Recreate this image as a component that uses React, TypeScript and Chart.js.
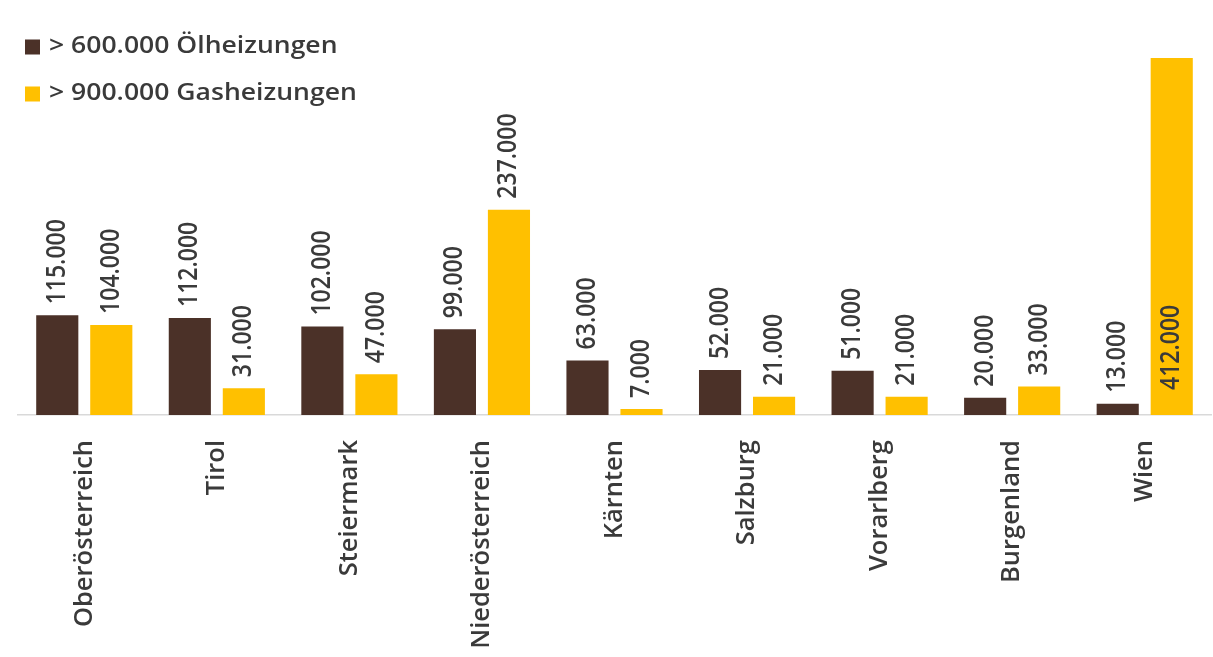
import React, { useEffect, useRef } from "react";
import { Chart, registerables } from "chart.js";

Chart.register(...registerables);

const categories = [
  "Oberösterreich",
  "Tirol",
  "Steiermark",
  "Niederösterreich",
  "Kärnten",
  "Salzburg",
  "Vorarlberg",
  "Burgenland",
  "Wien",
];
const oilValues = [115000, 112000, 102000, 99000, 63000, 52000, 51000, 20000, 13000];
const gasValues = [104000, 31000, 47000, 237000, 7000, 21000, 21000, 33000, 412000];
const seriesLabels = ["> 600.000 Ölheizungen", "> 900.000 Gasheizungen"];
const seriesColors = ["#4B3128", "#FFC000"];

const FONT = "'Open Sans', 'Noto Sans', sans-serif";
const TEXT = "#3A3A3A";
const STRETCH = 1.15;

function fmt(v: number): string {
  return String(Math.round(v)).replace(/\B(?=(\d{3})+(?!\d))/g, ".");
}

const dataLabelPlugin = {
  id: "dataLabels",
  afterDatasetsDraw(chart: any) {
    const ctx = chart.ctx;
    const area = chart.chartArea;
    ctx.save();
    ctx.font = `600 23px ${FONT}`;
    ctx.fillStyle = TEXT;
    ctx.textBaseline = "middle";
    chart.data.datasets.forEach((ds: any, di: number) => {
      const meta = chart.getDatasetMeta(di);
      meta.data.forEach((el: any, i: number) => {
        const text = fmt(ds.data[i]);
        const w = ctx.measureText(text).width;
        let bottom = el.y - 11;
        if (bottom - w < area.top) {
          bottom = el.base - 25;
        }
        ctx.save();
        ctx.translate(el.x, bottom);
        ctx.scale(STRETCH, 1);
        ctx.rotate(-Math.PI / 2);
        ctx.textAlign = "left";
        ctx.fillText(text, 0, 0);
        ctx.restore();
      });
    });
    ctx.restore();
  },
};

const legendPlugin = {
  id: "customLegend",
  afterDraw(chart: any) {
    const ctx = chart.ctx;
    ctx.save();
    chart.data.datasets.forEach((ds: any, di: number) => {
      const cy = 47 + di * 47;
      ctx.fillStyle = ds.backgroundColor;
      ctx.fillRect(25, cy - 7.5, 15, 15);
      ctx.fillStyle = TEXT;
      ctx.font = `600 22.5px ${FONT}`;
      ctx.textBaseline = "middle";
      ctx.textAlign = "left";
      ctx.save();
      ctx.translate(49, cy);
      ctx.scale(1.18, 1);
      ctx.fillText(ds.label, 0, 0);
      ctx.restore();
    });
    ctx.restore();
  },
};

export default function App() {
  const canvasRef = useRef<HTMLCanvasElement | null>(null);

  useEffect(() => {
    document.body.style.margin = "0";
    const canvas = canvasRef.current;
    if (!canvas) return;
    const chart = new Chart(canvas, {
      type: "bar",
      data: {
        labels: categories,
        datasets: [
          {
            label: seriesLabels[0],
            data: oilValues,
            backgroundColor: seriesColors[0],
            categoryPercentage: 0.815,
            barPercentage: 0.78,
          },
          {
            label: seriesLabels[1],
            data: gasValues,
            backgroundColor: seriesColors[1],
            categoryPercentage: 0.815,
            barPercentage: 0.78,
          },
        ],
      },
      options: {
        responsive: false,
        maintainAspectRatio: false,
        animation: false,
        layout: { padding: { left: 18, right: 2, top: 58, bottom: 0 } },
        plugins: {
          legend: { display: false },
          tooltip: { enabled: false },
        },
        scales: {
          x: {
            grid: { display: false, drawTicks: false },
            border: { display: true, color: "#D9D9D9", width: 1.5 },
            ticks: {
              minRotation: 90,
              maxRotation: 90,
              autoSkip: false,
              padding: 25,
              color: TEXT,
              font: { family: FONT, size: 25.5, weight: "600" },
            },
            afterFit: (scale: any) => {
              scale.height = 242;
            },
          },
          y: {
            display: false,
            min: 0,
            max: 412000,
          },
        },
      },
      plugins: [dataLabelPlugin, legendPlugin],
    });
    return () => chart.destroy();
  }, []);

  return (
    <div style={{ width: 1213, height: 657, background: "#fff" }}>
      <canvas ref={canvasRef} width={1213} height={657} style={{ display: "block" }} />
    </div>
  );
}
